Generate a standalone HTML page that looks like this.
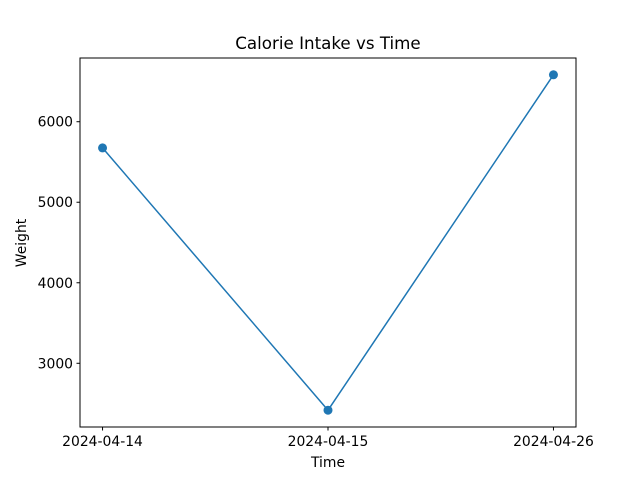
<!DOCTYPE html>
<html><head><meta charset="utf-8"><style>
body{margin:0;background:#fff;}
svg{font-family:"DejaVu Sans","Liberation Sans",sans-serif;}
</style></head><body>
<svg id="chart" width="640" height="480" xmlns="http://www.w3.org/2000/svg">
<rect width="640" height="480" fill="#fff"/>
<text x="328" y="49" text-anchor="middle" font-size="16.7">Calorie Intake vs Time</text>
<text x="328" y="467" text-anchor="middle" font-size="13.9">Time</text>
<text x="26" y="243" text-anchor="middle" font-size="13.9" transform="rotate(-90 26 243)">Weight</text>
<g id="marks"></g>
<rect x="80" y="58" width="496" height="369" fill="none" stroke="#000" stroke-width="1"/>
</svg>
<script>
const categories = ["2024-04-14","2024-04-15","2024-04-26"];
const values = [5675, 2417, 6583];
const yTicks = [3000,4000,5000,6000];
const L=80,R=576,T=58,B=427;
const ns="http://www.w3.org/2000/svg";
const g=document.getElementById('marks');
const n=categories.length;
const xl=-(n-1)*0.05, xr=(n-1)*1.05;
function xs(i){return L+(i-xl)/(xr-xl)*(R-L);}
const mn=Math.min(...values), mx=Math.max(...values), pad=(mx-mn)*0.05;
const y0=mn-pad, y1=mx+pad;
function ys(v){return B-(v-y0)/(y1-y0)*(B-T);}
function el(t,a){const e=document.createElementNS(ns,t);for(const k in a)e.setAttribute(k,a[k]);g.appendChild(e);return e;}
yTicks.forEach(v=>{
  const y=ys(v);
  const l=el('line',{x1:L-3.5,x2:L,y1:y,y2:y,stroke:'#000'});
  
  
  const t=el('text',{x:L-7,y:y+5,'text-anchor':'end','font-size':'13.9'});
  t.textContent=v;
  
  
});
categories.forEach((c,i)=>{
  const x=xs(i);
  const l=el('line',{x1:x,x2:x,y1:B,y2:B+3.5,stroke:'#000'});
  
  
  const t=el('text',{x:x,y:B+19,'text-anchor':'middle','font-size':'13.9'});
  t.textContent=c;
  
  
});
const pts=values.map((v,i)=>xs(i)+','+ys(v)).join(' ');
const pl=el('polyline',{points:pts,fill:'none',stroke:'#1f77b4','stroke-width':'1.5'});


values.forEach((v,i)=>{
  const c=el('circle',{cx:xs(i),cy:ys(v),r:4.5,fill:'#1f77b4'});
  
  
});
</script>
</body></html>
